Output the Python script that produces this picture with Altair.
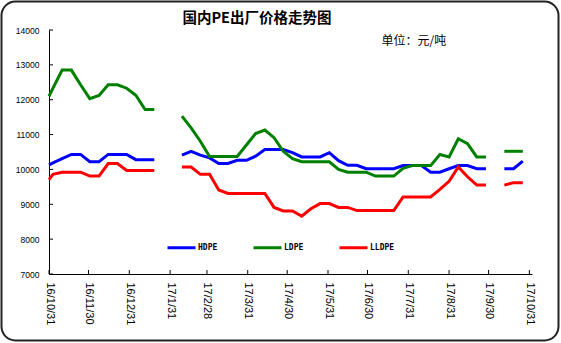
import altair as alt
import pandas as pd

# ---------------- data ----------------
dates = [
    "2016-10-31", "2016-11-03", "2016-11-10", "2016-11-17", "2016-11-24",
    "2016-12-01", "2016-12-08", "2016-12-15", "2016-12-22", "2016-12-29",
    "2017-01-05", "2017-01-12", "2017-01-19", "2017-01-26", "2017-02-02",
    "2017-02-09", "2017-02-16", "2017-02-23", "2017-03-02", "2017-03-09",
    "2017-03-16", "2017-03-23", "2017-03-30", "2017-04-06", "2017-04-13",
    "2017-04-20", "2017-04-27", "2017-05-04", "2017-05-11", "2017-05-18",
    "2017-05-25", "2017-06-01", "2017-06-08", "2017-06-15", "2017-06-22",
    "2017-06-29", "2017-07-06", "2017-07-13", "2017-07-20", "2017-07-27",
    "2017-08-03", "2017-08-10", "2017-08-17", "2017-08-24", "2017-08-31",
    "2017-09-07", "2017-09-14", "2017-09-21", "2017-09-28", "2017-10-05",
    "2017-10-12", "2017-10-19", "2017-10-26",
]

hdpe = [
    10130, 10190, 10310, 10430, 10430,
    10220, 10220, 10430, 10430, 10430,
    10280, 10280, 10280, None, None,
    10410, 10520, 10410, 10330, 10170,
    10170, 10260, 10260, 10380, 10570,
    10570, 10570, 10480, 10360, 10360,
    10360, 10480, 10250, 10120, 10120,
    10020, 10020, 10020, 10020, 10110,
    10110, 10110, 9920, 9920, 10020,
    10110, 10110, 10020, 10020, None,
    10020, 10020, 10240,
]

ldpe = [
    12100, 12330, 12850, 12850, 12430,
    12030, 12120, 12430, 12430, 12330,
    12130, 11720, 11720, None, None,
    11530, 11190, 10810, 10370, 10370,
    10370, 10370, 10700, 11030, 11130,
    10910, 10520, 10310, 10220, 10220,
    10220, 10220, 10000, 9920, 9920,
    9920, 9810, 9810, 9810, 10030,
    10110, 10110, 10110, 10430, 10360,
    10880, 10740, 10360, 10360, None,
    10520, 10520, 10520,
]

lldpe = [
    9710, 9860, 9920, 9920, 9920,
    9810, 9810, 10170, 10170, 9970,
    9970, 9970, 9970, None, None,
    10070, 10070, 9860, 9860, 9410,
    9310, 9310, 9310, 9310, 9310,
    8910, 8810, 8810, 8660, 8870,
    9020, 9020, 8910, 8910, 8820,
    8820, 8820, 8820, 8820, 9210,
    9210, 9210, 9210, 9425, 9660,
    10070, 9790, 9550, 9550, None,
    9550, 9620, 9620,
]

series_names = ["HDPE", "LDPE", "LLDPE"]
series_colors = ["#0000FF", "#008000", "#FF0000"]

tick_dates = [
    "2016-10-31", "2016-11-30", "2016-12-31", "2017-01-31", "2017-02-28",
    "2017-03-31", "2017-04-30", "2017-05-31", "2017-06-30", "2017-07-31",
    "2017-08-31", "2017-09-30", "2017-10-31",
]
y_ticks = [7000, 8000, 9000, 10000, 11000, 12000, 13000, 14000]

title_text = "国内PE出厂价格走势图"
unit_text = "单位：元/吨"

# ---------------- build tables ----------------
rows = []
for name, vals in zip(series_names, [hdpe, ldpe, lldpe]):
    seg = 0
    for d, v in zip(dates, vals):
        if v is None:
            seg += 1
            continue
        rows.append({"date": d, "value": v, "series": name, "seg": f"{name}-{seg}"})
df = pd.DataFrame(rows)

W, H = 483, 244


def dt(s):
    return alt.DateTime(year=int(s[:4]), month=int(s[5:7]), date=int(s[8:]), utc=True)


x_scale = alt.Scale(type="utc", domain=[dt("2016-10-31"), dt("2017-11-02")])
y_scale = alt.Scale(domain=[7000, 14000], nice=False, zero=False)

x_axis = alt.Axis(
    values=[dt(s) for s in tick_dates],
    labelExpr="utcFormat(datum.value, '%y/%-m/%d')",
    labelAngle=90,
    labelFont="Liberation Sans",
    labelFontSize=11,
    labelColor="#000000",
    labelPadding=8,
    labelOverlap=False,
    labelFlush=False,
    labelBound=False,
    ticks=False,
    tickSize=0,
    grid=False,
    domainColor="#000000",
    domainWidth=1,
    title=None,
)
y_axis = alt.Axis(
    values=y_ticks,
    format="d",
    labelFont="Liberation Sans",
    labelFontSize=8.5,
    labelColor="#000000",
    labelPadding=10,
    ticks=False,
    tickSize=0,
    grid=False,
    domainColor="#000000",
    domainWidth=1,
    title=None,
)

lines = alt.Chart(df).mark_line(strokeWidth=3, interpolate="linear").encode(
    x=alt.X("date:T", scale=x_scale, axis=x_axis, title=None),
    y=alt.Y("value:Q", scale=y_scale, axis=y_axis, title=None),
    color=alt.Color(
        "series:N",
        scale=alt.Scale(domain=series_names, range=series_colors),
        legend=alt.Legend(
            orient="none",
            legendX=117,
            legendY=202,
            direction="horizontal",
            symbolType="stroke",
            symbolSize=784,
            symbolStrokeWidth=3,
            labelFont="DejaVu Sans Mono",
            labelFontSize=8,
            labelFontWeight="bold",
            labelColor="#000000",
            labelOffset=1,
            columnPadding=29,
            padding=0,
            title=None,
        ),
    ),
    detail="seg:N",
)

xticks = alt.Chart(pd.DataFrame({"d": tick_dates})).mark_rule(
    color="#000000", strokeWidth=1
).encode(
    x=alt.X("d:T", scale=x_scale, axis=x_axis, title=None),
    y=alt.value(H - 4),
    y2=alt.value(H),
)

yticks = alt.Chart(pd.DataFrame({"v": y_ticks})).mark_rule(
    color="#000000", strokeWidth=1
).encode(
    y=alt.Y("v:Q", scale=y_scale, axis=y_axis, title=None),
    x=alt.value(0),
    x2=alt.value(4),
)

title_mark = alt.Chart(pd.DataFrame({"t": [title_text]})).mark_text(
    font="Noto Sans CJK SC",
    fontSize=14.5,
    fontWeight="bold",
    color="#000000",
    align="center",
    baseline="middle",
).encode(text="t:N", x=alt.value(208), y=alt.value(-11))

unit_mark = alt.Chart(pd.DataFrame({"t": [unit_text]})).mark_text(
    font="Noto Sans CJK SC",
    fontSize=12,
    color="#000000",
    align="left",
    baseline="middle",
).encode(text="t:N", x=alt.value(332.5), y=alt.value(11))

border = alt.Chart(pd.DataFrame({"k": [0]})).mark_rect(
    cornerRadius=14,
    fillOpacity=0,
    stroke="#222222",
    strokeWidth=2,
).encode(
    x=alt.value(-47.5),
    x2=alt.value(509.5),
    y=alt.value(-28.5),
    y2=alt.value(310.5),
)

chart = (
    alt.layer(border, xticks, yticks, lines, title_mark, unit_mark)
    .properties(
        width=W,
        height=H,
        autosize=alt.AutoSizeParams(type="none"),
        padding={"left": 49, "top": 30, "right": 29, "bottom": 69},
        background="#FFFFFF",
    )
    .configure_view(strokeWidth=0)
)

chart.save("out.html", embed_options={"renderer": "svg", "actions": False})
